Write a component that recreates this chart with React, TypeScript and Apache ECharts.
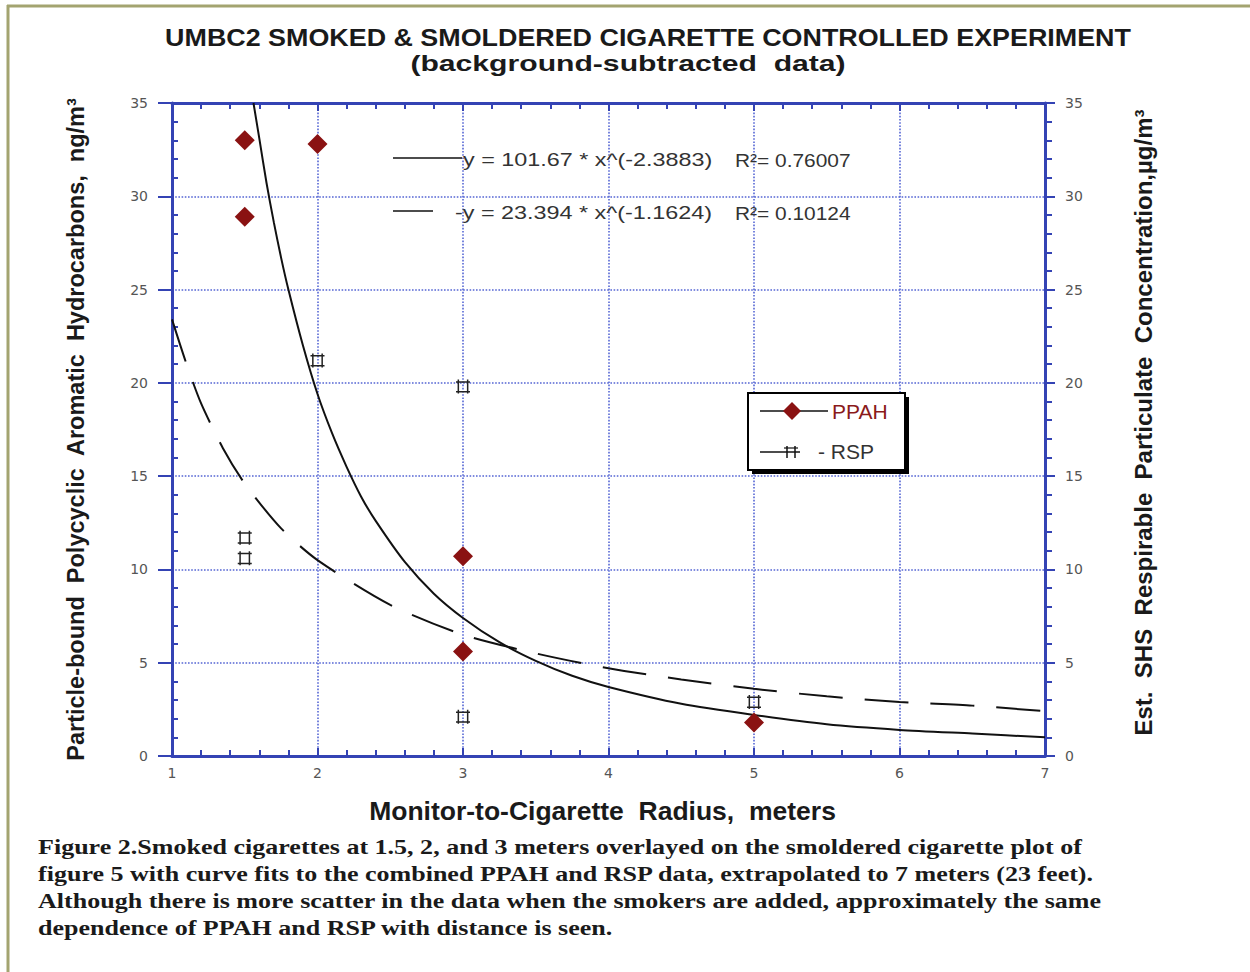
import React, { useEffect, useRef } from "react";
import * as echarts from "echarts";

// ---- data ----
const ppahDistance = [1.5, 1.5, 2, 3, 3, 5];
const ppahValues = [33.0, 28.9, 32.8, 10.7, 5.6, 1.8];
const rspDistance = [1.5, 1.5, 2, 3, 3, 5];
const rspValues = [11.7, 10.6, 21.2, 19.8, 2.1, 2.9];

// solid power-law fit curve (PPAH)
const ppahFitDistance = [1.56, 1.6, 1.65, 1.7, 1.75, 1.8, 1.9, 2.0, 2.1, 2.2, 2.3, 2.4, 2.6, 2.8, 3.0, 3.25, 3.5, 3.75, 4.0, 4.5, 5.0, 5.5, 6.0, 6.5, 7.0];
const ppahFitValues = [35.0, 33.1, 30.7, 28.6, 26.7, 25.0, 22.0, 19.4, 17.3, 15.5, 13.9, 12.6, 10.4, 8.7, 7.4, 6.1, 5.1, 4.3, 3.7, 2.8, 2.2, 1.7, 1.4, 1.2, 1.0];

// dashed power-law fit curve (RSP)
const rspFitDistance = [1.0, 1.1, 1.2, 1.35, 1.5, 1.75, 2.0, 2.5, 3.0, 3.5, 4.0, 4.5, 5.0, 5.5, 6.0, 6.5, 7.0];
const rspFitValues = [23.4, 21.0, 18.9, 16.5, 14.6, 12.2, 10.5, 8.1, 6.5, 5.5, 4.7, 4.1, 3.6, 3.2, 2.9, 2.7, 2.4];

const titleText = "UMBC2 SMOKED & SMOLDERED CIGARETTE CONTROLLED EXPERIMENT";
const subtitleText = "(background-subtracted  data)";
const xAxisName = "Monitor-to-Cigarette  Radius,  meters";
const leftAxisName = "Particle-bound  Polycyclic  Aromatic  Hydrocarbons,  ng/m³";
const rightAxisName = "Est.  SHS  Respirable  Particulate  Concentration,µg/m³";
const fitEquations = ["y = 101.67 * x^(-2.3883)", "-y = 23.394 * x^(-1.1624)"];
const fitR2 = ["R²= 0.76007", "R²= 0.10124"];
const legendNames = ["PPAH", "- RSP"];
const captionLines = [
  "Figure 2.Smoked cigarettes at 1.5, 2, and 3 meters overlayed on the smoldered cigarette plot of",
  "figure 5 with curve fits to the combined PPAH and RSP data, extrapolated to 7 meters (23 feet).",
  "Although there is more scatter in the data when the smokers are added, approximately the same",
  "dependence of PPAH and RSP with distance is seen.",
];

const zip = (xs: number[], ys: number[]) => xs.map((x, i) => [x, ys[i]]);

const AX = "#3443b4";
const GRID = "#5566d4";
const LABEL = "#555";
const SANS = "'Liberation Sans', Arial, Helvetica, sans-serif";
const SERIF = "'Liberation Serif', 'Times New Roman', serif";
const RSP_SYMBOL = "path://M2,0L2,12M10,0L10,12M0,2L12,2M0,10.5L12,10.5";

export default function App() {
  const ref = useRef<HTMLDivElement>(null);

  useEffect(() => {
    if (!ref.current) return;
    const chart = echarts.init(ref.current, null, { renderer: "svg" });

    const tickLabel = { color: LABEL, fontSize: 14, fontFamily: "'DejaVu Sans', sans-serif" };

    const option: any = {
      animation: false,
      backgroundColor: "#ffffff",
      grid: { left: 172, right: 205, top: 103, bottom: 216, containLabel: false },
      xAxis: [
        {
          type: "value",
          min: 1,
          max: 7,
          interval: 1,
          position: "bottom",
          axisLine: { show: true, onZero: false, lineStyle: { color: AX, width: 3 } },
          axisTick: { show: true, inside: true, length: 8, lineStyle: { color: AX, width: 2 } },
          minorTick: { show: true, splitNumber: 5, length: 6, lineStyle: { color: AX, width: 2 } },
          splitLine: { show: true, lineStyle: { color: GRID, type: "dotted", width: 1.6 } },
          axisLabel: { margin: 10, ...tickLabel },
          name: xAxisName,
          nameLocation: "middle",
          nameGap: 41,
          nameTextStyle: { fontSize: 26.5, fontWeight: "bold", color: "#1a1a1a", fontFamily: SANS, padding: [0, 12, 0, 0] },
        },
        {
          type: "value",
          min: 1,
          max: 7,
          interval: 1,
          position: "top",
          axisLine: { show: true, onZero: false, lineStyle: { color: AX, width: 3 } },
          axisTick: { show: true, inside: true, length: 8, lineStyle: { color: AX, width: 2 } },
          minorTick: { show: true, splitNumber: 5, length: 6, lineStyle: { color: AX, width: 2 } },
          splitLine: { show: false },
          axisLabel: { show: false },
        },
      ],
      yAxis: [
        {
          type: "value",
          min: 0,
          max: 35,
          interval: 5,
          position: "left",
          axisLine: { show: true, onZero: false, lineStyle: { color: AX, width: 3 } },
          axisTick: { show: true, inside: false, length: 14, lineStyle: { color: AX, width: 2 } },
          minorTick: { show: false },
          splitLine: { show: true, lineStyle: { color: GRID, type: "dotted", width: 1.6 } },
          axisLabel: { margin: 24, ...tickLabel },
          name: leftAxisName,
          nameLocation: "middle",
          nameGap: 84,
          nameRotate: 90,
          nameTextStyle: { fontSize: 23.5, fontWeight: "bold", color: "#1a1a1a", fontFamily: SANS },
        },
        {
          type: "value",
          min: 0,
          max: 35,
          interval: 5,
          position: "left",
          axisLine: { show: false },
          axisTick: { show: true, inside: true, length: 0.01, lineStyle: { color: AX, width: 2 } },
          minorTick: { show: true, splitNumber: 5, length: 6, lineStyle: { color: AX, width: 2 } },
          splitLine: { show: false },
          axisLabel: { show: false },
        },
        {
          type: "value",
          min: 0,
          max: 35,
          interval: 5,
          position: "right",
          axisLine: { show: true, onZero: false, lineStyle: { color: AX, width: 3 } },
          axisTick: { show: true, inside: false, length: 10, lineStyle: { color: AX, width: 2 } },
          minorTick: { show: true, splitNumber: 5, length: 7, lineStyle: { color: AX, width: 2 } },
          splitLine: { show: false },
          axisLabel: { margin: 20, ...tickLabel },
          name: rightAxisName,
          nameLocation: "middle",
          nameGap: 86,
          nameRotate: 90,
          nameTextStyle: { fontSize: 24, fontWeight: "bold", color: "#1a1a1a", fontFamily: SANS, padding: [0, 0, 0, 14] },
        },
      ],
      series: [
        {
          name: "PPAH fit",
          type: "line",
          xAxisIndex: 0,
          yAxisIndex: 0,
          data: zip(ppahFitDistance, ppahFitValues),
          showSymbol: false,
          smooth: 0.25,
          lineStyle: { color: "#111", width: 2 },
          silent: true,
          z: 3,
        },
        {
          name: "RSP fit",
          type: "line",
          xAxisIndex: 0,
          yAxisIndex: 0,
          data: zip(rspFitDistance, rspFitValues),
          showSymbol: false,
          smooth: 0.25,
          lineStyle: { color: "#111", width: 2, type: [44, 22] },
          silent: true,
          z: 3,
        },
        {
          name: "PPAH",
          type: "scatter",
          xAxisIndex: 0,
          yAxisIndex: 0,
          data: zip(ppahDistance, ppahValues),
          symbol: "diamond",
          symbolSize: [20, 20],
          itemStyle: { color: "#8a1212", opacity: 1 },
          z: 5,
        },
        {
          name: "RSP",
          type: "scatter",
          xAxisIndex: 0,
          yAxisIndex: 0,
          data: zip(rspDistance, rspValues),
          symbol: RSP_SYMBOL,
          symbolSize: [14, 14],
          itemStyle: { color: "rgba(0,0,0,0)", borderColor: "#222", borderWidth: 1.5, opacity: 1 },
          z: 5,
        },
      ],
      graphic: [
        // page frame
        { type: "line", shape: { x1: 7, y1: 6, x2: 1250, y2: 6 }, style: { stroke: "#a3a470", lineWidth: 3 }, z: 50 },
        { type: "line", shape: { x1: 8, y1: 5, x2: 8, y2: 972 }, style: { stroke: "#a3a470", lineWidth: 3 }, z: 50 },
        // titles
        {
          type: "text", x: 648, y: 38, scaleX: 1.12, z: 50,
          style: { text: titleText, fill: "#1a1a1a", font: `bold 24px ${SANS}`, textAlign: "center", textVerticalAlign: "middle" },
        },
        {
          type: "text", x: 628, y: 63, scaleX: 1.37, z: 50,
          style: { text: subtitleText, fill: "#1a1a1a", font: `bold 22px ${SANS}`, textAlign: "center", textVerticalAlign: "middle" },
        },
        // fit equations
        { type: "line", shape: { x1: 393, y1: 158, x2: 462, y2: 158 }, style: { stroke: "#111", lineWidth: 1.5 }, z: 50 },
        {
          type: "text", x: 463, y: 160, scaleX: 1.23, z: 50,
          style: { text: fitEquations[0], fill: "#333", font: `19px ${SANS}`, textAlign: "left", textVerticalAlign: "middle" },
        },
        {
          type: "text", x: 735, y: 160, scaleX: 1.1, z: 50,
          style: { text: fitR2[0], fill: "#333", font: `19px ${SANS}`, textAlign: "left", textVerticalAlign: "middle" },
        },
        { type: "line", shape: { x1: 393, y1: 211, x2: 433, y2: 211 }, style: { stroke: "#111", lineWidth: 1.5 }, z: 50 },
        {
          type: "text", x: 455, y: 213, scaleX: 1.23, z: 50,
          style: { text: fitEquations[1], fill: "#333", font: `19px ${SANS}`, textAlign: "left", textVerticalAlign: "middle" },
        },
        {
          type: "text", x: 735, y: 213, scaleX: 1.1, z: 50,
          style: { text: fitR2[1], fill: "#333", font: `19px ${SANS}`, textAlign: "left", textVerticalAlign: "middle" },
        },
        // legend box
        { type: "rect", shape: { x: 752, y: 397, width: 157, height: 77 }, style: { fill: "#000" }, z: 60 },
        { type: "rect", shape: { x: 748, y: 393, width: 157, height: 77 }, style: { fill: "#fff", stroke: "#000", lineWidth: 2 }, z: 61 },
        { type: "line", shape: { x1: 760, y1: 411, x2: 828, y2: 411 }, style: { stroke: "#111", lineWidth: 1.5 }, z: 62 },
        { type: "polygon", shape: { points: [[792, 402], [801, 411], [792, 420], [783, 411]] }, style: { fill: "#8a1212" }, z: 63 },
        {
          type: "text", x: 832, y: 411, z: 62,
          style: { text: legendNames[0], fill: "#8a1a1a", font: `21px ${SANS}`, textAlign: "left", textVerticalAlign: "middle" },
        },
        { type: "line", shape: { x1: 760, y1: 452, x2: 800, y2: 452 }, style: { stroke: "#111", lineWidth: 1.5 }, z: 62 },
        { type: "line", shape: { x1: 787, y1: 446, x2: 787, y2: 458 }, style: { stroke: "#111", lineWidth: 1.5 }, z: 62 },
        { type: "line", shape: { x1: 795, y1: 446, x2: 795, y2: 458 }, style: { stroke: "#111", lineWidth: 1.5 }, z: 62 },
        { type: "line", shape: { x1: 784, y1: 448, x2: 798, y2: 448 }, style: { stroke: "#111", lineWidth: 1.2 }, z: 62 },
        {
          type: "text", x: 818, y: 451, z: 62,
          style: { text: legendNames[1], fill: "#333", font: `21px ${SANS}`, textAlign: "left", textVerticalAlign: "middle" },
        },
        // caption
        ...captionLines.map((line, i) => ({
          type: "text", x: 38, y: 847 + i * 27, scaleX: 1.24, z: 50,
          style: { text: line, fill: "#1a1a1a", font: `bold 21px ${SERIF}`, textAlign: "left", textVerticalAlign: "middle" },
        })),
      ],
    };

    chart.setOption(option);
    return () => chart.dispose();
  }, []);

  return (
    <div
      ref={ref}
      style={{ position: "fixed", left: 0, top: 0, width: 1250, height: 972, background: "#fff" }}
    />
  );
}
